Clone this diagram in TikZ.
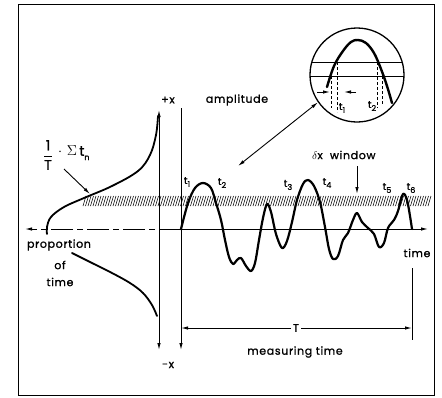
\documentclass[tikz,border=0pt]{standalone}
\usepackage{fontspec}
\usepackage{amsmath}
\setmainfont{Poppins}[LetterSpace=6, FakeBold=1.2]
\usetikzlibrary{arrows.meta}
\newcommand{\tsub}[1]{t\raisebox{-0.3em}{\fontsize{8}{9}\selectfont #1}}
\begin{document}
\begin{tikzpicture}[x=1pt,y=-1pt,
  lbl/.style={font=\fontsize{11}{12}\selectfont, inner sep=0pt},
  big/.style={font=\fontsize{14}{15}\selectfont, inner sep=0pt},
  tl/.style={font=\fontsize{10}{11}\selectfont, inner sep=0pt},
  ax/.style={line width=0.9pt},
  tip/.style={-{Latex[length=7pt,width=3.4pt]}},
  tips/.style={{Latex[length=7pt,width=3.4pt]}-{Latex[length=7pt,width=3.4pt]}},
  wave/.style={line width=2.2pt, line join=round, line cap=round},
  dist/.style={line width=1.8pt, line cap=round},
  hatch/.style={line width=0.55pt}]
\useasboundingbox (0,0) rectangle (442,397);
\draw[line width=1pt] (18,4) rectangle (434,395);
% hatched amplitude window
\foreach \x in {83,85.5,...,430} \draw[hatch] (\x,206) -- (\x+3,196);
% coordinates
\coordinate (o) at (181,229);
\coordinate (axL) at (25,229);
\coordinate (axR) at (428,229);
\coordinate (dTop) at (159,110);
\coordinate (dBot) at (159,350);
\coordinate (sTop) at (181,108);
\coordinate (sBot) at (181,350);
\coordinate (Tend) at (412,328);
\coordinate (Tbeg) at (181,328);
\coordinate (Text1) at (412,268);
\coordinate (Text2) at (412,340);
% axes
\draw[ax, tip] (o) -- (axR);
\draw[ax, tip, dash pattern=on 22pt off 4pt on 6pt off 4pt] (o) -- (axL);
\draw[ax, tips] (dBot) -- (dTop);
\draw[ax, tip] (sTop) -- (sBot);
\draw[ax] (Text1) -- (Text2);
% distribution curves
\draw[dist] plot[smooth, tension=0.6] coordinates {(158,116) (156,135) (150,155) (138,171) (112,186) (84,198) (64,207) (51,217) (47,227) (47,234)};
\draw[dist] plot[smooth, tension=0.6] coordinates {(72,253) (92,263) (112,273) (130,283) (143,293) (152,305) (157,316)};
% signal
\draw[wave] plot[smooth, tension=0.55] coordinates {
 (181,229) (188,203) (195,188) (203,183) (211,188) (216,203) (221,220) (225,240)
 (229,257) (233,264) (237,260) (241,258) (246,266) (251,271) (255,263) (259,240)
 (263,218) (267,204) (271,212) (276,234) (282,248) (287,241) (292,222) (297,200)
 (303,184) (308,180) (314,186) (320,202) (325,227) (329,249) (333,259) (338,256)
 (343,240) (348,233) (353,220) (357,213) (362,222) (368,228) (374,234) (379,247)
 (384,243) (388,228) (394,220) (398,211) (403,194) (407,200) (410,216) (412,229)};
% labels
\node[lbl] (px) at (168,100) {+x};
\node[lbl] (mx) at (168,365) {-x};
\node[lbl] (amp) at (237,100) {amplitude};
\node[big] (frac) at (48,155) {$\dfrac{\text{1}}{\text{T}}$};
\node[big, anchor=west] (sig) at (58,153) {$\cdot\ \Sigma$\,\tsub{n}};
\coordinate (sigtip) at (90,194);
\draw[ax, tip] (64,169) -- (sigtip);
\node[lbl] (prop) at (59,245) {proportion};
\node[lbl] (of) at (60,265) {of};
\node[lbl] (ptime) at (60,282) {time};
\node[lbl] (time) at (417,253) {time};
\node[lbl, fill=white, inner sep=2pt] (T) at (296,328) {T};
\draw[ax, tip] (T) -- (Tbeg);
\draw[ax, tip] (T) -- (Tend);
\node[lbl] (meas) at (295,352) {measuring time};
\node[lbl, anchor=west] (win) at (312,155) {$\delta$x\ \ window};
\coordinate (wtip) at (357,194);
\draw[ax, tip] (357,166) -- (wtip);
\node[tl] (t1) at (187,182) {\tsub{1}};
\node[tl] (t2) at (222,183) {\tsub{2}};
\node[tl] (t3) at (288,185) {\tsub{3}};
\node[tl] (t4) at (327,183) {\tsub{4}};
\node[tl] (t5) at (387,188) {\tsub{5}};
\node[tl] (t6) at (411,188) {\tsub{6}};
% magnifier
\node[circle, draw, line width=1.3pt, minimum size=94pt, inner sep=0pt] (mag) at (357,75) {};
\begin{scope}
\clip (357,75) circle (47);
\draw[line width=0.9pt] (300,62) -- (420,62);
\draw[line width=0.9pt] (300,76) -- (420,76);
\end{scope}
\draw[line width=2.4pt, line cap=round] plot[smooth, tension=0.6] coordinates {(327,87) (334,66) (343,51) (351,42) (358,40) (366,43) (374,53) (381,69) (387,86) (392,103)};
\draw[line width=0.7pt, dash pattern=on 3pt off 2pt] (337,62) -- (337,112);
\draw[line width=0.7pt, dash pattern=on 3pt off 2pt] (331,76) -- (331,108);
\draw[line width=0.7pt, dash pattern=on 3pt off 2pt] (377,62) -- (377,108);
\draw[line width=0.7pt, dash pattern=on 3pt off 2pt] (382,76) -- (382,104);
\draw[ax, tip] (317,92) -- (330,92);
\draw[ax, tip] (356,92) -- (344,92);
\node[tl] (m1) at (342,108) {\tsub{1}};
\node[tl] (m2) at (372,106) {\tsub{2}};
\coordinate (ptr) at (238,166);
\draw[ax, tips] (ptr) -- (mag.215);
\end{tikzpicture}
\end{document}
